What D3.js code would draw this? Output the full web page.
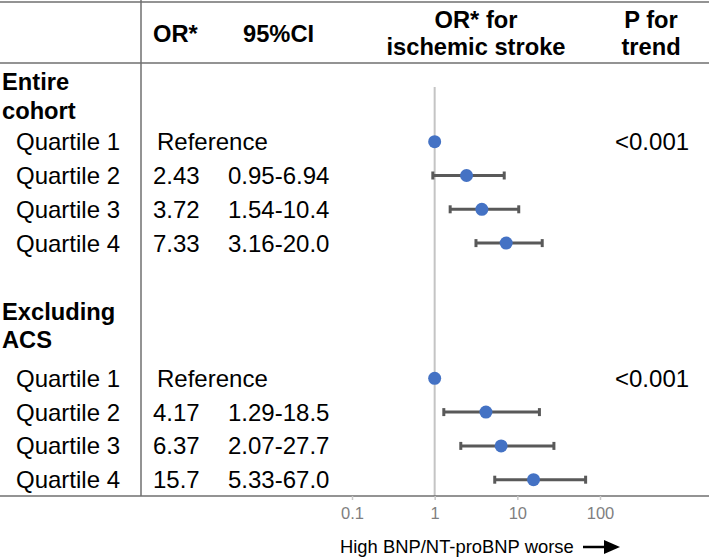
<!DOCTYPE html>
<html>
<head>
<meta charset="utf-8">
<script src="https://cdn.jsdelivr.net/npm/d3@7"></script>
<style>
  html, body { margin: 0; padding: 0; background: #fff; }
  svg { display: block; font-family: "Liberation Sans", Arial, sans-serif; }
</style>
</head>
<body>
<svg id="chart" width="709" height="559"></svg>
<script>
// ---- Data ----
const groups = ["Entire cohort", "Excluding ACS"];
const groupTitleLines = [["Entire", "cohort"], ["Excluding", "ACS"]];
const quartiles = ["Quartile 1", "Quartile 2", "Quartile 3", "Quartile 4"];
const orEntire = [1, 2.43, 3.72, 7.33];
const loEntire = [null, 0.95, 1.54, 3.16];
const hiEntire = [null, 6.94, 10.4, 20.0];
const orLabelsEntire = ["", "2.43", "3.72", "7.33"];
const ciLabelsEntire = ["", "0.95-6.94", "1.54-10.4", "3.16-20.0"];
const orExcl = [1, 4.17, 6.37, 15.7];
const loExcl = [null, 1.29, 2.07, 5.33];
const hiExcl = [null, 18.5, 27.7, 67.0];
const orLabelsExcl = ["", "4.17", "6.37", "15.7"];
const ciLabelsExcl = ["", "1.29-18.5", "2.07-27.7", "5.33-67.0"];
const pTrend = ["<0.001", "<0.001"];
const xTicks = [0.1, 1, 10, 100];
const headerCols = ["OR*", "95%CI"];
const forestHeader = ["OR* for", "ischemic stroke"];
const pHeader = ["P for", "trend"];
const axisTitle = "High BNP/NT-proBNP worse";

const rowsData = [
  { or: orEntire, lo: loEntire, hi: hiEntire, orL: orLabelsEntire, ciL: ciLabelsEntire, start: 2 },
  { or: orExcl, lo: loExcl, hi: hiExcl, orL: orLabelsExcl, ciL: ciLabelsExcl, start: 9 }
];

// ---- Layout ----
const W = 709, H = 559;
const svg = d3.select("#chart");
const FS = 24, FSB = 23.7;
const lineColor = "#6f6f6f";
const x = d3.scaleLog().domain([0.1, 100]).range([352, 600]);
const y = d3.scaleLinear().domain([2, 9]).range([141.7, 378.3]);
const axisY = 496;
const colX = { label: 16, or: 153, ci: 228, ref: 157, p: 615 };

// table lines
svg.append("line").attr("x1", 0).attr("x2", W).attr("y1", 2).attr("y2", 2)
  .attr("stroke", lineColor).attr("stroke-width", 1.5);
svg.append("line").attr("x1", 0).attr("x2", W).attr("y1", 63).attr("y2", 63)
  .attr("stroke", lineColor).attr("stroke-width", 1.5);
svg.append("line").attr("x1", 141).attr("x2", 141).attr("y1", 0).attr("y2", axisY)
  .attr("stroke", lineColor).attr("stroke-width", 1.5);

// header
svg.append("g").selectAll("text").data(headerCols).join("text")
  .attr("x", (d, i) => i === 0 ? 153 : 243).attr("y", 42)
  .attr("font-size", FSB).attr("font-weight", "bold").text(d => d);
svg.append("g").selectAll("text").data(forestHeader).join("text")
  .attr("x", 476).attr("y", (d, i) => 28 + i * 27).attr("text-anchor", "middle")
  .attr("font-size", FSB).attr("font-weight", "bold").text(d => d);
svg.append("g").selectAll("text").data(pHeader).join("text")
  .attr("x", 651).attr("y", (d, i) => 28 + i * 27).attr("text-anchor", "middle")
  .attr("font-size", FSB).attr("font-weight", "bold").text(d => d);

// reference line at OR = 1
svg.append("line").attr("x1", x(1)).attr("x2", x(1)).attr("y1", 87).attr("y2", axisY)
  .attr("stroke", "#c4c4c4").attr("stroke-width", 2);

// group titles
const titleBaselines = [[90, 119], [320, 348]];
groupTitleLines.forEach((lines, gi) => {
  svg.append("g").selectAll("text").data(lines).join("text")
    .attr("x", 2).attr("y", (d, i) => titleBaselines[gi][i])
    .attr("font-size", FSB).attr("font-weight", "bold").text(d => d);
});

// rows
rowsData.forEach((g, gi) => {
  const gg = svg.append("g");
  quartiles.forEach((q, i) => {
    const cy = y(g.start + i);
    const by = cy + 8.5;
    gg.append("text").attr("x", colX.label).attr("y", by).attr("font-size", FS).text(q);
    if (i === 0) {
      gg.append("text").attr("x", colX.ref).attr("y", by).attr("font-size", FS).text("Reference");
      gg.append("text").attr("x", colX.p).attr("y", by).attr("font-size", FS).text(pTrend[gi]);
    } else {
      gg.append("text").attr("x", colX.or).attr("y", by).attr("font-size", FS).text(g.orL[i]);
      gg.append("text").attr("x", colX.ci).attr("y", by).attr("font-size", FS).text(g.ciL[i]);
      // whisker
      gg.append("line").attr("x1", x(g.lo[i])).attr("x2", x(g.hi[i])).attr("y1", cy).attr("y2", cy)
        .attr("stroke", "#595959").attr("stroke-width", 3);
      [g.lo[i], g.hi[i]].forEach(v => {
        gg.append("line").attr("x1", x(v)).attr("x2", x(v)).attr("y1", cy - 4).attr("y2", cy + 4)
          .attr("stroke", "#595959").attr("stroke-width", 3);
      });
    }
    gg.append("circle").attr("cx", x(g.or[i])).attr("cy", cy).attr("r", 6.5).attr("fill", "#4472C4");
  });
});

// bottom line (table bottom + axis line)
svg.append("line").attr("x1", 0).attr("x2", W).attr("y1", axisY).attr("y2", axisY)
  .attr("stroke", lineColor).attr("stroke-width", 1.5);

// axis
const axis = d3.axisBottom(x).tickValues(xTicks).tickSize(4).tickPadding(7)
  .tickFormat(d => d3.format("~g")(d));
const ag = svg.append("g").attr("transform", `translate(0,${axisY})`).call(axis);
ag.select(".domain").remove();
ag.selectAll(".tick line").attr("stroke", "#c8c8c8").attr("stroke-width", 1.5);
ag.selectAll(".tick text").attr("fill", "#7f7f7f").attr("font-size", 16.5)
  .attr("font-family", "\"Liberation Sans\", Arial, sans-serif");

// axis title + arrow
svg.append("text").attr("x", 340).attr("y", 553).attr("font-size", 18.4).text(axisTitle);
svg.append("line").attr("x1", 583).attr("x2", 607).attr("y1", 547).attr("y2", 547)
  .attr("stroke", "#000").attr("stroke-width", 2.5);
svg.append("path").attr("d", "M604,540 L620,547 L604,554 Z").attr("fill", "#000");
</script>
</body>
</html>
